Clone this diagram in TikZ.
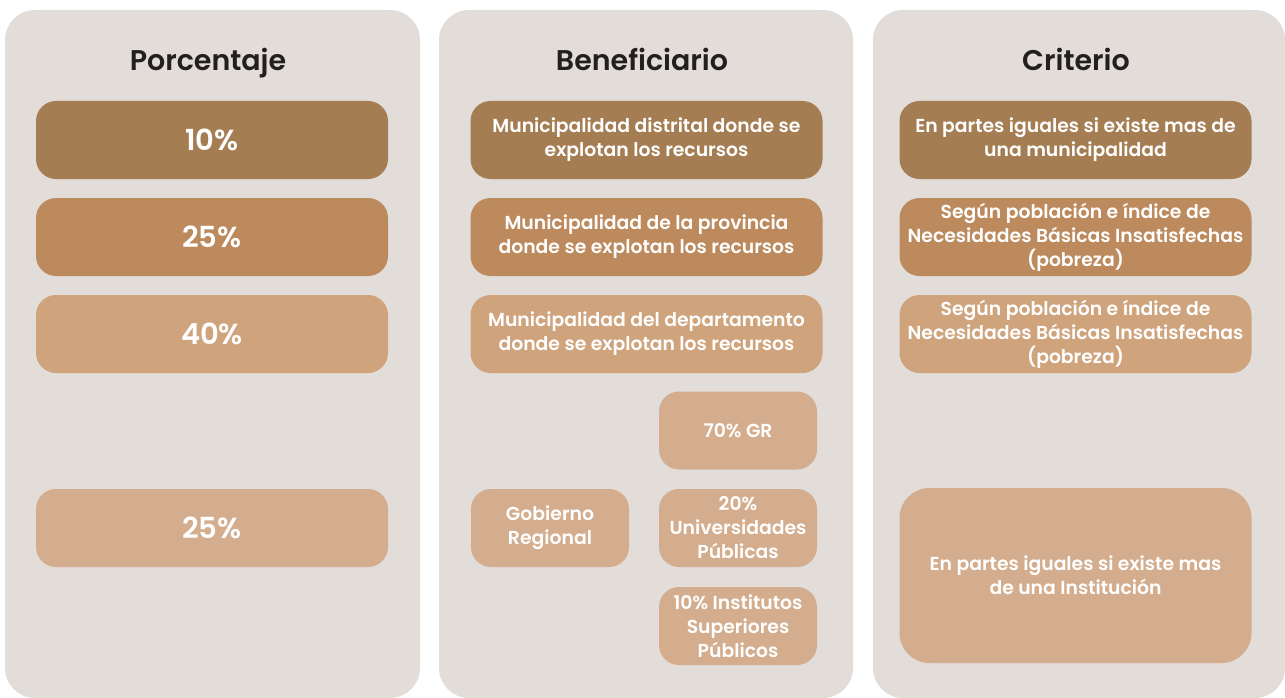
\documentclass[tikz,border=0pt]{standalone}
\usepackage{fontspec}
\setmainfont{Poppins}
\newfontfamily\semibold{Poppins SemiBold}
\newfontfamily\medium{Poppins Medium}

\definecolor{panelbg}{HTML}{E2DDD9}
\definecolor{tonedark}{HTML}{A57D52}
\definecolor{tonemid}{HTML}{BC8A5D}
\definecolor{tonelight}{HTML}{CFA47D}
\definecolor{tonepale}{HTML}{D3AD8D}
\definecolor{titlegray}{HTML}{231F20}

\tikzset{
  panel/.style={fill=panelbg, rounded corners=30pt},
  heading/.style={font=\semibold\fontsize{28.5}{33}\selectfont, text=titlegray, anchor=base},
  box/.style={rounded corners=20pt, text=white, align=center, inner sep=0pt,
    font=\semibold\fontsize{18.8}{24}\selectfont},
  pct/.style={box, font=\semibold\fontsize{29}{34}\selectfont,
    minimum width=352pt, minimum height=78pt},
  wide/.style={box, minimum width=352pt, minimum height=78pt},
  small/.style={box, minimum width=158pt, minimum height=78pt},
}

\begin{document}
\begin{tikzpicture}[x=1pt,y=-1pt]
  \useasboundingbox (0,0) rectangle (1285,698);

  % panels
  \fill[panel] (5,10) rectangle (420,698);
  \fill[panel] (439,10) rectangle (853,698);
  \fill[panel] (873,10) rectangle (1285,698);

  % headings
  \node[heading] (hpct) at (208,71) {Porcentaje};
  \node[heading] (hben) at (642,71) {Beneficiario};
  \node[heading] (hcri) at (1076,71) {Criterio};

  % porcentaje
  \node[pct, fill=tonedark] (pa) at (212,140) {10\%};
  \node[pct, fill=tonemid] (pb) at (212,237) {25\%};
  \node[pct, fill=tonelight] (pc) at (212,334) {40\%};
  \node[pct, fill=tonepale] (pd) at (212,528) {25\%};

  % beneficiario
  \node[wide, fill=tonedark] (ba) at (646.5,140)
    {Municipalidad distrital donde se\\explotan los recursos};
  \node[wide, fill=tonemid] (bb) at (646.5,237)
    {Municipalidad de la provincia\\donde se explotan los recursos};
  \node[wide, fill=tonelight] (bc) at (646.5,334)
    {Municipalidad del departamento\\donde se explotan los recursos};
  \node[small, fill=tonepale] (gob) at (550,528) {Gobierno\\Regional};
  \node[small, fill=tonepale] (gr) at (738,430.5) {70\% GR};
  \node[small, fill=tonepale] (uni) at (738,528) {20\%\\Universidades\\Públicas};
  \node[small, fill=tonepale] (ins) at (738,626) {10\% Institutos\\Superiores\\Públicos};

  % criterio
  \node[wide, fill=tonedark] (ca) at (1075.5,140)
    {En partes iguales si existe mas de\\una municipalidad};
  \node[wide, fill=tonemid] (cb) at (1075.5,237)
    {Según población e índice de\\Necesidades Básicas Insatisfechas\\(pobreza)};
  \node[wide, fill=tonelight] (cc) at (1075.5,334)
    {Según población e índice de\\Necesidades Básicas Insatisfechas\\(pobreza)};
  \node[wide, fill=tonepale, minimum height=175pt, rounded corners=30pt] (cd) at (1075.5,575.5)
    {En partes iguales si existe mas\\de una Institución};
\end{tikzpicture}
\end{document}
